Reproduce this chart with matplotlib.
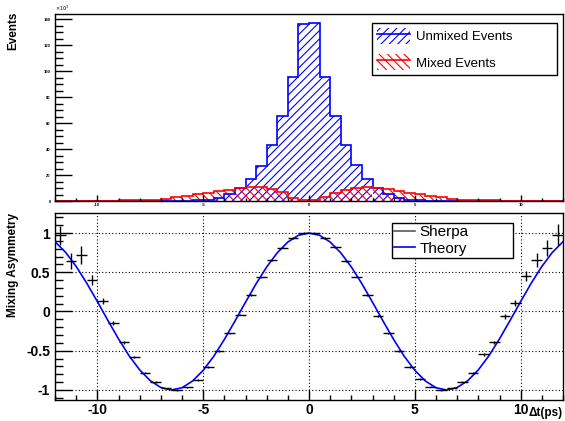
import numpy as np
import matplotlib
matplotlib.use("Agg")
import matplotlib.pyplot as plt
from matplotlib.patches import Patch
from matplotlib.lines import Line2D
from matplotlib.legend_handler import HandlerTuple
from matplotlib.ticker import MultipleLocator, FuncFormatter

plt.rcParams["font.family"] = ["Liberation Sans", "DejaVu Sans"]
plt.rcParams["axes.unicode_minus"] = False
plt.rcParams["hatch.linewidth"] = 0.8

# ---- 数据----
bin_edges = np.linspace(-12, 12, 49)        # 0.5 ps 一格

# 未混合事例 (x10^3)
unmixed = [0.08, 0.10, 0.12, 0.13, 0.14, 0.14, 0.13, 0.10, 0.07, 0.04, 0.02, 0.01,
           0.03, 0.40, 1.0, 2.6, 5.1, 10.3, 16.7, 27.2, 43.4, 65.6, 95.5, 136.0,
           136.8, 95.5, 65.3, 43.0, 27.5, 16.6, 10.3, 5.1, 2.6, 1.0, 0.40, 0.03,
           0.01, 0.02, 0.04, 0.07, 0.10, 0.13, 0.14, 0.14, 0.13, 0.12, 0.10, 0.08]
# 混合事例 (x10^3)
mixed = [0.10, 0.12, 0.15, 0.20, 0.25, 0.30, 0.40, 0.50, 0.70, 1.0, 1.8, 2.8,
         3.9, 5.1, 6.4, 7.7, 8.8, 10.0, 10.5, 10.5, 9.0, 6.9, 2.6, 0.8,
         0.6, 2.8, 6.4, 8.8, 10.0, 10.5, 10.0, 9.0, 7.7, 6.4, 5.1, 3.9,
         2.8, 1.8, 1.0, 0.70, 0.50, 0.40, 0.30, 0.25, 0.20, 0.15, 0.12, 0.10]

# Sherpa 混合不对称度
asym_t = [-11.75, -11.25, -10.75, -10.25, -9.75, -9.25, -8.75, -8.25, -7.75, -7.25,
          -6.75, -6.25, -5.75, -5.25, -4.75, -4.25, -3.75, -3.25, -2.75, -2.25,
          -1.75, -1.25, -0.75, -0.25, 0.25, 0.75, 1.25, 1.75, 2.25, 2.75,
          3.25, 3.75, 4.25, 4.75, 5.25, 5.75, 6.25, 6.75, 7.25, 7.75,
          8.25, 8.75, 9.25, 9.75, 10.25, 10.75, 11.25, 11.75]
asym = [0.97, 0.64, 0.72, 0.40, 0.136, -0.146, -0.39, -0.58, -0.78, -0.90,
        -0.98, -1.0, -0.966, -0.87, -0.71, -0.505, -0.28, -0.04, 0.21, 0.435,
        0.65, 0.815, 0.936, 1.0, 1.0, 0.936, 0.82, 0.645, 0.444, 0.21,
        -0.056, -0.28, -0.505, -0.71, -0.86, -0.958, -1.0, -0.98, -0.894, -0.786,
        -0.547, -0.39, -0.06, 0.11, 0.453, 0.658, 0.808, 0.98]
asym_err = [0.12, 0.10, 0.12, 0.06, 0.04, 0.03, 0.02, 0.015, 0.01, 0.01,
            0.01, 0.01, 0.01, 0.01, 0.01, 0.01, 0.01, 0.01, 0.01, 0.01,
            0.01, 0.01, 0.01, 0.01, 0.01, 0.01, 0.01, 0.01, 0.01, 0.01,
            0.01, 0.01, 0.01, 0.01, 0.01, 0.01, 0.01, 0.01, 0.01, 0.01,
            0.015, 0.02, 0.03, 0.035, 0.06, 0.09, 0.10, 0.13]

# 理论曲线
theory_t = [-12.0, -11.5, -11.0, -10.5, -10.0, -9.5, -9.0, -8.5, -8.0, -7.5, -7.0, -6.5,
            -6.0, -5.5, -5.0, -4.5, -4.0, -3.5, -3.0, -2.5, -2.0, -1.5, -1.0, -0.5,
            0.0, 0.5, 1.0, 1.5, 2.0, 2.5, 3.0, 3.5, 4.0, 4.5, 5.0, 5.5,
            6.0, 6.5, 7.0, 7.5, 8.0, 8.5, 9.0, 9.5, 10.0, 10.5, 11.0, 11.5, 12.0]
theory = [0.889, 0.754, 0.574, 0.361, 0.127, -0.114, -0.349, -0.564, -0.744, -0.882,
          -0.969, -1.000, -0.972, -0.886, -0.750, -0.571, -0.357, -0.123, 0.118, 0.353,
          0.567, 0.748, 0.885, 0.971, 1.000, 0.971, 0.885, 0.748, 0.567, 0.353,
          0.118, -0.123, -0.357, -0.571, -0.750, -0.886, -0.972, -1.000, -0.969, -0.882,
          -0.744, -0.564, -0.349, -0.114, 0.127, 0.361, 0.574, 0.754, 0.889]

W, H = 565, 421
fig = plt.figure(figsize=(W / 100, H / 100), dpi=100)
ax1 = fig.add_axes([55 / W, 1 - 201 / H, 508 / W, 187 / H])
ax2 = fig.add_axes([55 / W, 1 - 400 / H, 508 / W, 187 / H])

HATCH_U = "////"
HATCH_M = "\\\\\\\\"

# ---- 上图：事例直方图 ----
centers = 0.5 * (bin_edges[:-1] + bin_edges[1:])
ax1.bar(centers, unmixed, width=0.5, facecolor="none", edgecolor="blue",
        hatch=HATCH_U, lw=0)
ax1.bar(centers, mixed, width=0.5, facecolor="none", edgecolor="red",
        hatch=HATCH_M, lw=0)
ax1.stairs(unmixed, bin_edges, color="blue", lw=1.2)
ax1.stairs(mixed, bin_edges, color="red", lw=1.2)
ax1.set_xlim(-12, 12)
ax1.set_ylim(0, 144)
ax1.xaxis.set_major_locator(MultipleLocator(5))
ax1.xaxis.set_minor_locator(MultipleLocator(1))
ax1.yaxis.set_major_locator(MultipleLocator(20))
ax1.yaxis.set_minor_locator(MultipleLocator(5))
ax1.tick_params(axis="x", which="major", direction="in", length=4, width=1,
                labelsize=3, pad=1.5)
ax1.tick_params(axis="x", which="minor", direction="in", length=2, width=1)
ax1.tick_params(axis="y", which="major", direction="in", length=12, width=1,
                labelsize=3, pad=3)
ax1.tick_params(axis="y", which="minor", direction="in", length=6, width=1)
for lab in ax1.get_yticklabels() + ax1.get_xticklabels():
    lab.set_fontweight("bold")
ax1.text(0.0, 1.005, r"$\times10^{3}$", transform=ax1.transAxes,
         fontsize=3.5, ha="left", va="bottom")

h_u = (Patch(facecolor="none", edgecolor="blue", hatch=HATCH_U, lw=0),
       Line2D([0], [0], color="blue", lw=1.2))
h_m = (Patch(facecolor="none", edgecolor="red", hatch=HATCH_M, lw=0),
       Line2D([0], [0], color="red", lw=1.2))
leg1 = ax1.legend([h_u, h_m], ["Unmixed Events", "Mixed Events"],
                  handler_map={tuple: HandlerTuple(ndivide=1)},
                  loc="upper left", mode="expand",
                  bbox_to_anchor=(372 / W, 1 - 83 / H, 185 / W, 60 / H),
                  bbox_transform=fig.transFigure, borderaxespad=0,
                  fontsize=9.5, handlelength=2.5, handleheight=1.5,
                  handletextpad=0.45, labelspacing=0.76, borderpad=0.38,
                  fancybox=False, framealpha=1, edgecolor="black")
leg1.get_frame().set_linewidth(1.0)

# ---- 下图：混合不对称度 ----
ax2.plot(theory_t, theory, color="blue", lw=1.2, zorder=3)
ax2.errorbar(asym_t, asym, xerr=0.25, yerr=asym_err, fmt="none",
             ecolor="black", elinewidth=1.0, capsize=0, zorder=4)
ax2.set_xlim(-12, 12)
ax2.set_ylim(-1.128, 1.255)
ax2.xaxis.set_major_locator(MultipleLocator(5))
ax2.xaxis.set_minor_locator(MultipleLocator(1))
ax2.yaxis.set_major_locator(MultipleLocator(0.5))
ax2.yaxis.set_minor_locator(MultipleLocator(0.1))
ax2.yaxis.set_major_formatter(FuncFormatter(lambda v, p: f"{v:g}"))
ax2.tick_params(axis="x", which="major", direction="in", length=7, width=1,
                labelsize=10, pad=2)
ax2.tick_params(axis="x", which="minor", direction="in", length=3.6, width=1)
ax2.tick_params(axis="y", which="major", direction="in", length=12, width=1,
                labelsize=10, pad=3.5)
ax2.tick_params(axis="y", which="minor", direction="in", length=6, width=1)
for lab in ax2.get_yticklabels() + ax2.get_xticklabels():
    lab.set_fontweight("bold")
ax2.grid(True, which="major", color="black", ls=(0, (1, 2)), lw=0.8)

leg2 = ax2.legend([Line2D([0], [0], color="0.35", lw=1.2),
                   Line2D([0], [0], color="blue", lw=1.2)],
                  ["Sherpa", "Theory"],
                  loc="upper left", mode="expand",
                  bbox_to_anchor=(392 / W, 1 - 263 / H, 121 / W, 40 / H),
                  bbox_transform=fig.transFigure, borderaxespad=0,
                  fontsize=11, handlelength=1.37, handletextpad=0.3,
                  labelspacing=0.16, borderpad=0.15,
                  fancybox=False, framealpha=1, edgecolor="black")
leg2.get_frame().set_linewidth(1.0)

for ax in (ax1, ax2):
    for sp in ax.spines.values():
        sp.set_linewidth(1.0)

fig.text(13 / W, 1 - 12 / H, "Events", rotation=90, ha="center", va="top",
         fontsize=8.5, fontweight="bold")
fig.text(13 / W, 1 - 213 / H, "Mixing Asymmetry", rotation=90, ha="center",
         va="top", fontsize=8.5, fontweight="bold")
fig.text(563 / W, 1 - 413 / H, "Δt(ps)", ha="right", va="center",
         fontsize=8.5, fontweight="bold")

fig.savefig("out.png", dpi=100)
